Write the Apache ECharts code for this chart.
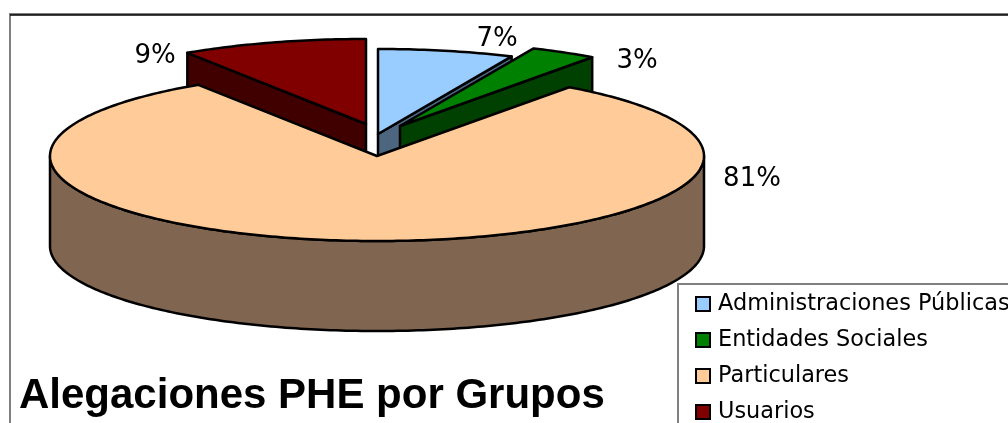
<!DOCTYPE html>
<html>
<head>
<meta charset="utf-8">
<style>
  html, body { margin: 0; padding: 0; background: #fff; overflow: hidden; }
  #chart { width: 1008px; height: 423px; }
</style>
<script src="https://cdn.jsdelivr.net/npm/echarts@6/dist/echarts.min.js"></script>
</head>
<body>
<div id="chart"></div>
<script>
const categories = ["Administraciones Públicas", "Entidades Sociales", "Particulares", "Usuarios"];
const shares = [6.7, 3.3, 80.8, 9.2];
const colors = ["#99CCFF", "#008000", "#FFCC99", "#800000"];
const sideColors = ["#4D6680", "#004000", "#806650", "#400000"];

// pie tilt and extrusion
const tilt = 0.26;
const depth = 90;
// pulled out slices, in px from the pie centre
const explode = [[1, -22], [23, -30], [0, 0], [-11, -32]];
// percent labels, in px from the pie centre
const labelPos = [[120, -117], [260, -95], [375, 23], [-222, -100]];
// paint order, back slices first
const paintZ = [2, 4, 5, 3];

const chart = echarts.init(document.getElementById("chart"));

const sliceRenderer = (idx) => (params, api) => {
  const from = shares.slice(0, idx).reduce((a, b) => a + b, 0);
  const to = from + shares[idx];
  const mid = (from + to) / 2;
  const [cx, cy] = api.coord([0, 0]);
  const [ox, oy] = explode[idx];

  const project = (r, a, drop = 0) => {
    const [x, y] = api.coord([r, a]);
    return [x + ox, cy + (y - cy) * tilt + oy + drop];
  };
  const arc = (a0, a1, drop = 0) => {
    const pts = [];
    for (let a = a0; a < a1; a += 0.25) pts.push(project(1, a, drop));
    pts.push(project(1, a1, drop));
    return pts;
  };
  const face = (points, fill) => ({
    type: "polygon",
    shape: { points },
    style: { fill, stroke: "#000", lineWidth: 2.5, lineJoin: "round" },
  });

  const children = [];
  // outer wall, only the part of the arc that faces front
  const wallFrom = Math.max(from, 25);
  const wallTo = Math.min(to, 75);
  if (wallFrom < wallTo) {
    children.push(face(arc(wallFrom, wallTo).concat(arc(wallFrom, wallTo, depth).reverse()), sideColors[idx]));
  }
  // cut side of a pulled out slice
  if (mid < 25 || mid > 75) {
    const a = mid < 25 ? to : from;
    children.push(face([project(0, a), project(1, a), project(1, a, depth), project(0, a, depth)], sideColors[idx]));
  }
  children.push(face([project(0, from)].concat(arc(from, to)), colors[idx]));
  children.push({
    type: "text",
    style: {
      x: cx + labelPos[idx][0],
      y: cy + labelPos[idx][1],
      text: Math.round(shares[idx]) + "%",
      fill: "#000",
      font: '26px "DejaVu Sans"',
      align: "center",
      verticalAlign: "middle",
    },
  });
  return { type: "group", children };
};

chart.setOption({
  animation: false,
  backgroundColor: "#fff",
  title: {
    text: "Alegaciones PHE por Grupos",
    left: 19,
    top: 375,
    padding: 0,
    textStyle: { fontFamily: "Liberation Sans", fontWeight: "bold", fontSize: 42, color: "#000" },
  },
  legend: {
    data: categories,
    orient: "vertical",
    left: 678,
    top: 284,
    height: 300,
    padding: [9, 40, 60, 17],
    itemGap: 14,
    itemWidth: 14,
    itemHeight: 14,
    icon: "rect",
    align: "left",
    selectedMode: false,
    backgroundColor: "#fff",
    borderColor: "#808080",
    borderWidth: 2,
    textStyle: { fontFamily: "DejaVu Sans", fontSize: 22.4, color: "#000", padding: [0, 0, 0, 3] },
    z: 10,
  },
  polar: { center: [377, 156], radius: 327 },
  angleAxis: { type: "value", min: 0, max: 100, startAngle: 90, clockwise: true, show: false },
  radiusAxis: { type: "value", min: 0, max: 1, show: false },
  graphic: [
    {
      type: "polyline",
      shape: { points: [[10, 423], [10, 14], [1008, 14]] },
      style: { fill: "none", stroke: "#808080", lineWidth: 2 },
      silent: true,
    },
    {
      type: "line",
      shape: { x1: 10, y1: 15, x2: 1008, y2: 15 },
      style: { stroke: "#000", lineWidth: 1.5 },
      silent: true,
    },
  ],
  series: categories.map((name, idx) => ({
    name,
    type: "custom",
    coordinateSystem: "polar",
    z: paintZ[idx],
    silent: true,
    clip: false,
    itemStyle: { color: colors[idx], borderColor: "#000", borderWidth: 2 },
    renderItem: sliceRenderer(idx),
    data: [[1, shares[idx]]],
  })),
});
</script>
</body>
</html>
